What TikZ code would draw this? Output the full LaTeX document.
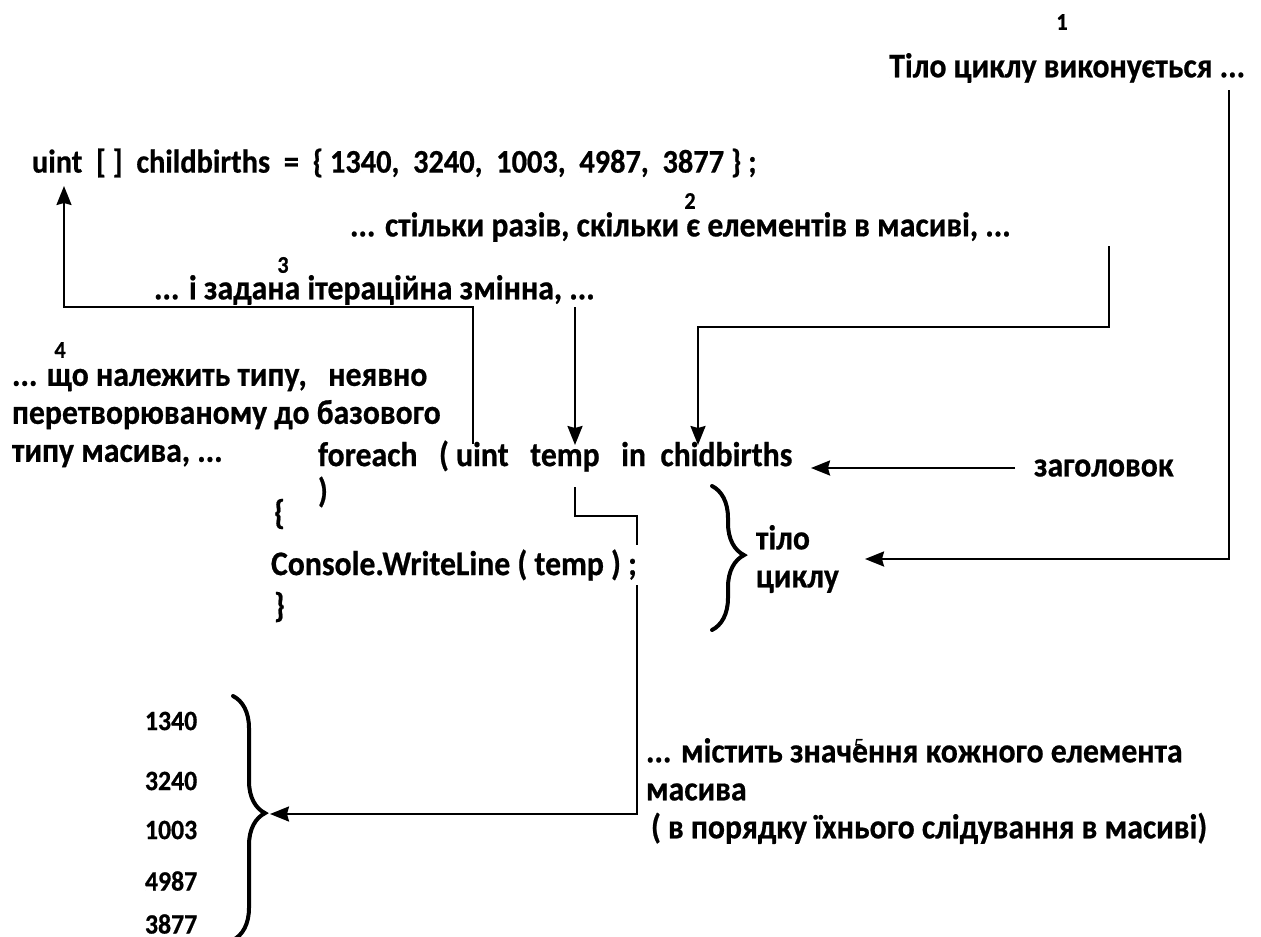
\documentclass[tikz,border=0pt]{standalone}
\usepackage{fontspec}
\setmainfont{Carlito}
\newfontfamily\narrowfont{Carlito}[UprightFont=* Bold,BoldFont=* Bold,FakeStretch=0.92,FakeBold=0.6]
\usetikzlibrary{arrows.meta,decorations.pathreplacing}

\newcommand\notefont{\narrowfont\fontsize{34.5}{38}\selectfont}
\newlength\fivex

\begin{document}
\settowidth\fivex{\notefont ... містить знач}
\begin{tikzpicture}[
  x=1pt,
  y=-1pt,
  line join=miter,
  every node/.style={inner sep=0pt,outer sep=0pt},
  note/.style={anchor=west,font=\notefont,align=left},
  code/.style={anchor=west,font=\notefont},
  numtag/.style={font=\narrowfont\fontsize{24}{28}\selectfont},
  value/.style={anchor=west,font=\narrowfont\fontsize{28}{32}\selectfont},
  link/.style={draw=black,line width=2.3pt},
  pointer/.style={link,-{Stealth[length=19pt,width=15pt,inset=2pt]}},
  bracket/.style={draw=black,line width=4pt,line cap=round,decorate,
                  decoration={brace,amplitude=32pt,aspect=0.48}}
]
  \useasboundingbox (0,0) rectangle (1261,937);

  % Array declaration and the loop itself (pixel grid, y runs down).
  \node[code,font=\narrowfont\fontsize{33}{38}\selectfont] (decl) at (32,163)
    {uint~~[ ]~~childbirths~~=~~\{ 1340,~~3240,~~1003,~~4987,~~3877 \} ;};
  \node[code] (head) at (318,456) {foreach~~~( uint~~~temp~~~in~~chidbirths};
  \node[code] (close) at (318,492) {)};
  \node[code] (open) at (274,514) {\{};
  \node[code] (call) at (271,565) {Console.WriteLine ( temp ) ;};
  \node[code] (shut) at (274,607) {\}};

  % Numbered remarks.
  \node[numtag] (n1) at (1062,22) {1};
  \node[note,anchor=east] (runs) at (1245,68) {Тіло циклу виконується ...};
  \node[numtag] (n2) at (690,201) {2};
  \node[note] (times) at (350,227) {... стільки разів, скільки є елементів в масиві, ...};
  \node[numtag] (n3) at (283,265) {3};
  \node[note] (itervar) at (154,290) {... і задана ітераційна змінна, ...};
  \node[numtag] (n4) at (60,350) {4};
  \node[note] (basetype) at (12,418) {... що належить типу,~~~неявно\\перетворюваному до базового\\типу масива, ...};
  \node[note] (header) at (1034,468) {заголовок};
  \node[note] (body) at (756,559) {тіло\\циклу};

  % Values that the iteration variable takes.
  \foreach \v/\y in {1340/721,3240/781,1003/830,4987/881,3877/924} {
    \node[value] (v\v) at (145,\y) {\v};
  }
  \node[note] (holds) at (646,791) {... містить значення кожного елемента\\масива\\\hspace{5pt}( в порядку їхнього слідування в масиві)};
  % only the top of the stray "5" shows above the text line
  \path (646,739) ++(\fivex,0pt) ++(7pt,0pt) coordinate (fivetop);
  \begin{scope}
    \clip ([xshift=-9pt,yshift=2pt]fivetop) rectangle ([xshift=9pt,yshift=-6pt]fivetop);
    \node[anchor=north,font=\fontsize{22}{26}\selectfont] (n5) at (fivetop) {5};
  \end{scope}

  % Braces.
  \draw[bracket] (712,486) -- (712,630);
  \draw[bracket] (233,696) -- (233,940);

  % Connectors.
  \coordinate (runsfoot) at (1229,90);
  \coordinate (timesfoot) at (1109,246);
  \coordinate (uinttop) at (473,444);
  \coordinate (tempfoot) at (575,487);
  \coordinate (semitop) at (637,545);
  \coordinate (semifoot) at (637,585);
  \draw[pointer] (runsfoot) |- (865,559);
  \draw[pointer] (timesfoot) -- (1109,327) -| (698,445);
  \draw[pointer] (575,307) -- (575,445);
  \draw[pointer] (uinttop) |- (64,307) -- (64,186);
  \draw[pointer] (1015,468) -- (811,468);
  \draw[link] (tempfoot) |- (637,516) -- (semitop);
  \draw[pointer] (semifoot) |- (270,814);
\end{tikzpicture}
\end{document}
